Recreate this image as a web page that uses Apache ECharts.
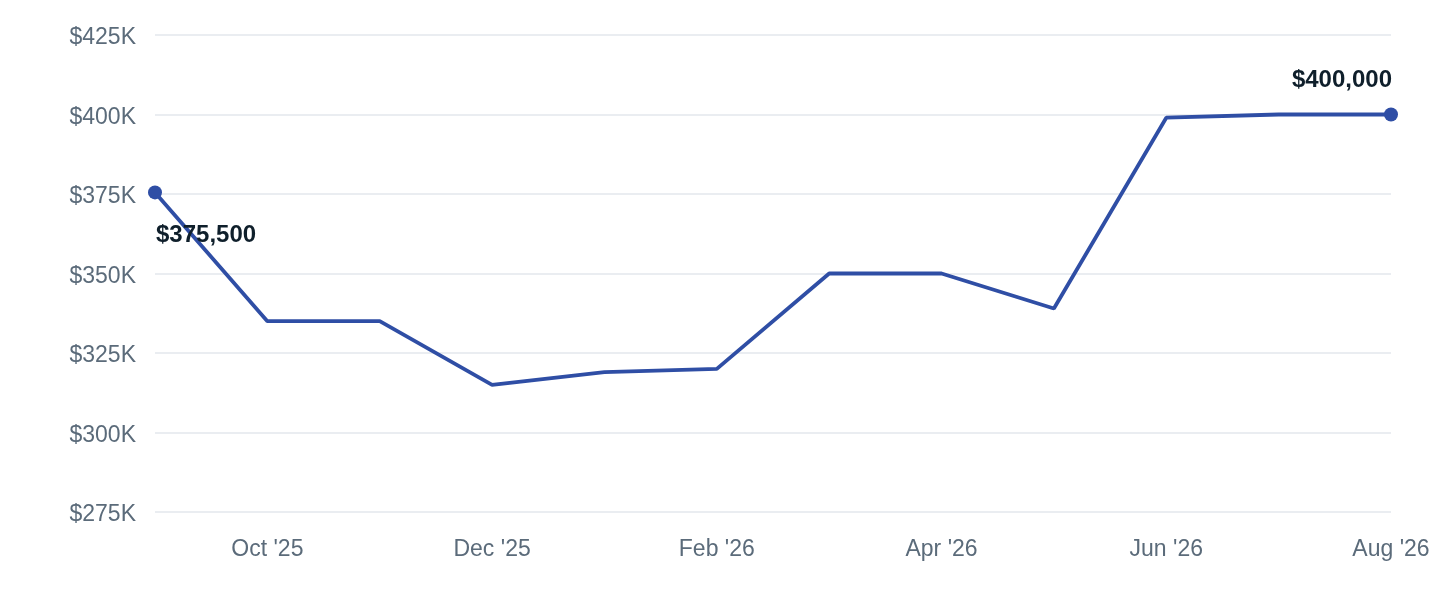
<!DOCTYPE html>
<html>
<head>
<meta charset="utf-8">
<script src="https://cdn.jsdelivr.net/npm/echarts@6/dist/echarts.min.js"></script>
<style>
  html, body { margin: 0; padding: 0; background: #ffffff; }
  #chart { width: 1440px; height: 600px; }
</style>
</head>
<body>
<div id="chart"></div>
<script>
const months = ["Sep '25", "Oct '25", "Nov '25", "Dec '25", "Jan '26", "Feb '26", "Mar '26", "Apr '26", "May '26", "Jun '26", "Jul '26", "Aug '26"];
const prices = [375500, 335000, 335000, 315000, 319000, 320000, 350000, 350000, 339000, 399000, 400000, 400000];
const yMin = 275000;
const yMax = 425000;
const yStep = 25000;

const lineColor = '#2f4ea5';
const axisTextColor = '#5b6b7a';
const labelColor = '#0f1f2b';
const fontFamily = 'Liberation Sans, Arial, Helvetica, sans-serif';

const lastIdx = prices.length - 1;
const seriesData = prices.map((v, i) => {
  if (i === 0) {
    return {
      value: v,
      label: {
        show: true, position: 'bottom', align: 'left', distance: 24, offset: [1, 0]
      }
    };
  }
  if (i === lastIdx) {
    return {
      value: v,
      label: {
        show: true, position: 'top', align: 'right', distance: 15, offset: [1, 0]
      }
    };
  }
  return { value: v };
});

const chart = echarts.init(document.getElementById('chart'), null, { renderer: 'canvas' });
chart.setOption({
  animation: false,
  backgroundColor: '#ffffff',
  grid: { left: 155, right: 49, top: 35, bottom: 88, containLabel: false },
  xAxis: {
    type: 'category',
    data: months,
    boundaryGap: false,
    axisLine: { show: false },
    axisTick: { show: false },
    splitLine: { show: false },
    axisLabel: {
      color: axisTextColor,
      fontSize: 23,
      fontFamily: fontFamily,
      margin: 26,
      interval: (idx) => idx % 2 === 1
    }
  },
  yAxis: {
    type: 'value',
    min: yMin,
    max: yMax,
    interval: yStep,
    axisLine: { show: false },
    axisTick: { show: false },
    splitLine: { show: true, lineStyle: { color: '#e3e7ed', width: 1.5 } },
    axisLabel: {
      color: axisTextColor,
      fontSize: 23,
      fontFamily: fontFamily,
      margin: 19,
      formatter: (v) => '{t|$' + (v / 1000) + 'K}',
      rich: {
        t: {
          color: axisTextColor,
          fontSize: 23,
          fontFamily: fontFamily,
          padding: [6, 0, 0, 0]
        }
      }
    }
  },
  series: [{
    type: 'line',
    data: seriesData,
    showSymbol: true,
    showAllSymbol: true,
    symbol: 'circle',
    symbolSize: (val, params) => (params.dataIndex === 0 || params.dataIndex === lastIdx) ? 14 : 0,
    lineStyle: { color: lineColor, width: 3.8 },
    itemStyle: { color: lineColor, borderWidth: 0 },
    label: {
      show: false,
      color: labelColor,
      fontSize: 24,
      fontWeight: 'bold',
      fontFamily: fontFamily,
      formatter: (p) => '$' + p.value.toLocaleString('en-US')
    },
    emphasis: { disabled: true }
  }]
});
</script>
</body>
</html>
